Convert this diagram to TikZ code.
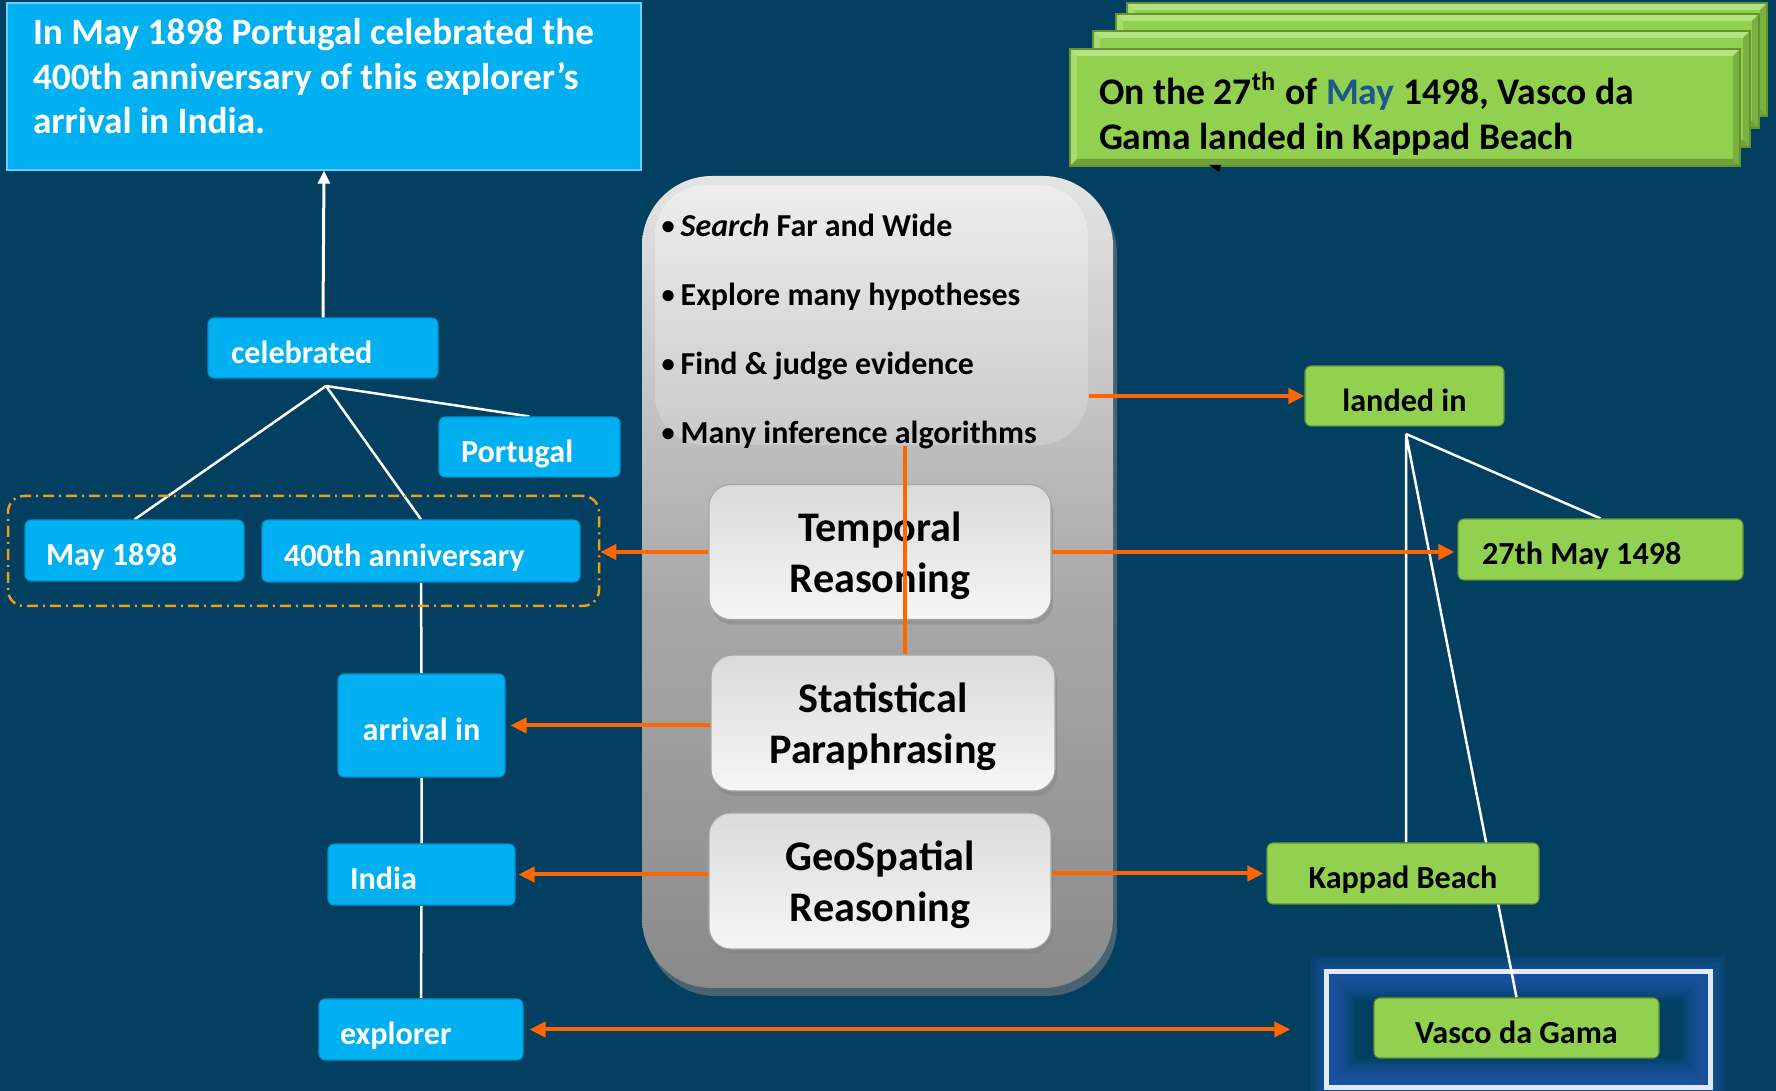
\documentclass[tikz,border=0pt]{standalone}
\usepackage{fontspec}
\setmainfont{Carlito}
\usepackage{tikz}
\usetikzlibrary{arrows.meta, calc, positioning, shadows}
\tikzset{>={Triangle[length=1.6mm, width=1.5mm]}}

\definecolor{bgblue}{RGB}{2,63,96}
\definecolor{skyfill}{RGB}{0,176,240}
\definecolor{skyedge}{RGB}{0,145,205}
\definecolor{leaf}{RGB}{146,208,80}
\definecolor{leafedge}{RGB}{100,148,50}
\definecolor{leaflight}{RGB}{180,228,130}
\definecolor{leafdark}{RGB}{112,162,56}
\definecolor{arrowor}{RGB}{255,102,0}
\definecolor{groupor}{RGB}{242,155,20}
\definecolor{mayblue}{RGB}{28,88,140}
\definecolor{glowblue}{RGB}{40,92,185}
\definecolor{frameline}{RGB}{225,233,255}
\definecolor{panelhi}{RGB}{228,228,228}
\definecolor{panelmid}{RGB}{170,170,170}
\definecolor{panellow}{RGB}{138,138,138}
\definecolor{glosshi}{RGB}{240,240,240}
\definecolor{glosslow}{RGB}{205,205,205}
\definecolor{boxtop}{RGB}{218,218,218}
\definecolor{boxbot}{RGB}{246,246,246}

\pgfdeclarelayer{bg}
\pgfdeclarelayer{twigs}
\pgfsetlayers{bg,twigs,main}

\tikzset{
  nodefont/.style={font=\bfseries\fontsize{9.15}{11}\selectfont, text height=3.1mm, text depth=0mm},
  skybox/.style={rectangle, rounded corners=0.6mm, fill=skyfill, draw=skyedge, line width=0.3pt, text=white, nodefont, inner ysep=0pt},
  leafbox/.style={rectangle, rounded corners=0.6mm, fill=leaf, draw=leafedge, line width=0.3pt, text=black, nodefont, inner ysep=0pt},
  lefttext/.style 2 args={inner xsep=#1, text width=#2, align=flush left},
  questionbox/.style={rectangle, fill=skyfill, draw=skyfill!60!white, line width=0.4pt, text=white, inner ysep=0pt,
    font=\bfseries\fontsize{10.6}{12.7}\selectfont, text depth=11mm},
  panel/.style={rectangle, rounded corners=7mm, top color=panelhi, bottom color=panellow, middle color=panelmid, draw=none, drop shadow={shadow xshift=0.4mm, shadow yshift=-0.8mm, opacity=0.55}},
  gloss/.style={rectangle, rounded corners=5mm, top color=glosshi, bottom color=glosslow, draw=none, opacity=0.8},
  bulletitem/.style={anchor=base west, inner sep=0pt, font=\bfseries\fontsize{9.1}{11}\selectfont},
  reasonbox/.style={rectangle, rounded corners=2.2mm, top color=boxtop, bottom color=boxbot, draw=gray!70, line width=0.3pt, align=center, minimum width=34.2mm, minimum height=13.5mm, text depth=0mm, font=\bfseries\fontsize{12}{14.5}\selectfont, drop shadow={shadow xshift=0.2mm, shadow yshift=-0.5mm, opacity=0.45}},
  bevelbox/.style={rectangle, fill=leaf, draw=leafedge, line width=0.4pt, inner ysep=0pt,
    path picture={
      \fill[leaflight] (path picture bounding box.north west) -- (path picture bounding box.north east)
        -- ([shift={(-0.7mm,-0.7mm)}]path picture bounding box.north east) -- ([shift={(0.7mm,-0.7mm)}]path picture bounding box.north west) -- cycle;
      \fill[leaflight!60!leaf] (path picture bounding box.north west) -- ([shift={(0.7mm,-0.7mm)}]path picture bounding box.north west)
        -- ([shift={(0.7mm,0.7mm)}]path picture bounding box.south west) -- (path picture bounding box.south west) -- cycle;
      \fill[leafdark] (path picture bounding box.south west) -- ([shift={(0.7mm,0.7mm)}]path picture bounding box.south west)
        -- ([shift={(-0.7mm,0.7mm)}]path picture bounding box.south east) -- (path picture bounding box.south east) -- cycle;
      \fill[leafdark!70!leaf] (path picture bounding box.south east) -- ([shift={(-0.7mm,0.7mm)}]path picture bounding box.south east)
        -- ([shift={(-0.7mm,-0.7mm)}]path picture bounding box.north east) -- (path picture bounding box.north east) -- cycle;
    }},
  groupframe/.style={rectangle, draw=groupor, line width=0.25mm, rounded corners=1.6mm, dash pattern=on 1.1mm off 0.5mm on 0.2mm off 0.5mm},
  twig/.style={draw=white, line width=0.25mm},
  flow/.style={draw=arrowor, line width=0.4mm},
}

\begin{document}
\begin{tikzpicture}[x=0.1mm, y=-0.1mm]
\useasboundingbox (0,0) rectangle (1776,1091);

% Spotlight frame
\node[minimum width=38.3mm, minimum height=11.5mm, inner sep=0pt] (spot) at (1518.5,1029.5) {};

\begin{pgfonlayer}{bg}
\fill[bgblue] (0,0) rectangle (1776,1091);
\foreach \w in {4.4,3.8,3.2,2.6,2.0,1.4,0.8}
  \draw[glowblue, line width=\w mm, opacity=0.15] ([shift={(0.7mm,0.7mm)}]spot.south west) rectangle ([shift={(-0.7mm,-0.7mm)}]spot.north east);
\draw[frameline, line width=0.45mm] (spot.south west) rectangle (spot.north east);
\end{pgfonlayer}

% Central panel
\node[panel, minimum width=47.1mm, minimum height=81.2mm] (panel) at (877.5,582) {};
\node[gloss, minimum width=43.3mm, minimum height=26mm] (gloss) at (871.5,315) {};

\foreach \txt [count=\i] in {{\textit{Search} Far and Wide}, Explore many hypotheses, Find \& judge evidence, Many inference algorithms}
  \node[bulletitem] (item\i) at (661,{168+69*\i}) {\makebox[1.9mm][l]{\fontsize{7.5}{7.5}\selectfont\raisebox{0.2ex}{\textbullet}}\txt};

\node[reasonbox] (temporal) at (880,552) {Temporal\\Reasoning};
\node[reasonbox, minimum width=34.4mm, minimum height=13.6mm] (statistical) at (883,723) {Statistical\\Paraphrasing};
\node[reasonbox, minimum height=13.6mm] (geo) at (880,881) {GeoSpatial\\Reasoning};

% Question side
\node[questionbox, lefttext={2.6mm}{58.2mm}, minimum height=16.7mm] (question) at (324,86.5)
  {In May 1898 Portugal celebrated the\\400th anniversary of this explorer’s\\arrival in India.};
\node[skybox, lefttext={2.3mm}{18.4mm}, minimum height=6mm] (celebrated) at (323,348) {celebrated};
\node[skybox, lefttext={2.2mm}{13.7mm}, minimum height=6mm] (portugal) at (529.5,447) {Portugal};
\node[groupframe, minimum width=59.1mm, minimum height=11mm] (datepair) at (303.5,551) {};
\node[skybox, lefttext={2.1mm}{17.7mm}, minimum height=6.1mm] (may) at (134.5,550.5) {May 1898};
\node[skybox, lefttext={2.2mm}{27.4mm}, minimum height=6.2mm] (anniv) at (421,551) {400th anniversary};
\node[skybox, minimum width=16.7mm, minimum height=10.3mm] (arrival) at (421.5,725.5) {arrival in};
\node[skybox, lefttext={2.2mm}{14.3mm}, minimum height=6.1mm] (india) at (421.5,874.5) {India};
\node[skybox, lefttext={2.1mm}{16.2mm}, minimum height=6.1mm] (explorer) at (421,1029.5) {explorer};

% Answer side
\node[bevelbox, minimum width=64mm, minimum height=11.3mm] (stackd) at (1447,59.5) {};
\node[bevelbox, minimum width=64.3mm, minimum height=11.4mm] (stackc) at (1437.5,71) {};
\node[bevelbox, minimum width=65.7mm, minimum height=11.6mm] (stackb) at (1421.5,89) {};
\node[bevelbox, lefttext={2.9mm}{61.2mm}, minimum height=11.7mm, text depth=3.8mm, font=\bfseries\fontsize{10.7}{12.8}\selectfont] (answer) at (1405,107.5)
  {On the 27\textsuperscript{th} of \textcolor{mayblue}{May} 1498, Vasco da\\Gama landed in Kappad Beach};
\fill[black] (1209,165) -- (1221,165) -- (1219,172) -- cycle;

\node[leafbox, minimum width=19.9mm, minimum height=6mm] (landed) at (1404.5,396) {landed in};
\node[leafbox, lefttext={2.4mm}{23.7mm}, minimum height=6.1mm] (date) at (1600.5,549.5) {27th May 1498};
\node[leafbox, minimum width=27.2mm, minimum height=6.1mm] (kappad) at (1403,873.5) {Kappad Beach};
\node[leafbox, minimum width=28.5mm, minimum height=6mm] (vasco) at (1516.5,1028) {Vasco da Gama};

% Tree lines
\begin{pgfonlayer}{twigs}
\coordinate (celfork) at (326,386);
\draw[twig] (celfork) -- (may.north) (celfork) -- (anniv.north) (celfork) -- (portugal.north);
\draw[twig] (anniv.south) -- (arrival.north) (arrival.south) -- (india.north) (india.south) -- (explorer.north);
\coordinate (landfork) at (1406,434);
\draw[twig] (landfork) -- (date.north) (landfork) -- (landfork |- kappad.north) (landfork) -- (vasco.north);
\end{pgfonlayer}
\draw[white, line width=0.3mm, -{Triangle[length=1.3mm, width=1.2mm]}] (celebrated.north) -- (question.south);

% Orange links
\draw[flow, ->] (gloss.east |- landed.west) -- (landed.west);
\draw[flow, ->, shorten >=0.3mm] (temporal.east) -- (temporal.east -| date.west);
\draw[flow, ->] (temporal.west) -- (temporal.west -| datepair.east);
\draw[flow, ->, shorten >=0.5mm] (statistical.west |- arrival.east) -- (arrival.east);
\draw[flow, ->, shorten >=0.3mm] (geo.west |- india.east) -- (india.east);
\draw[flow, ->, shorten >=0.3mm] (geo.east |- kappad.west) -- (kappad.west);
\draw[flow, <->, shorten <=0.6mm, shorten >=3.6mm] (explorer.east) -- (explorer.east -| spot.west);
\draw[flow] ([xshift=2.2mm]statistical.north) -- ([xshift=2.2mm]statistical.north |- gloss.south);

\end{tikzpicture}
\end{document}
